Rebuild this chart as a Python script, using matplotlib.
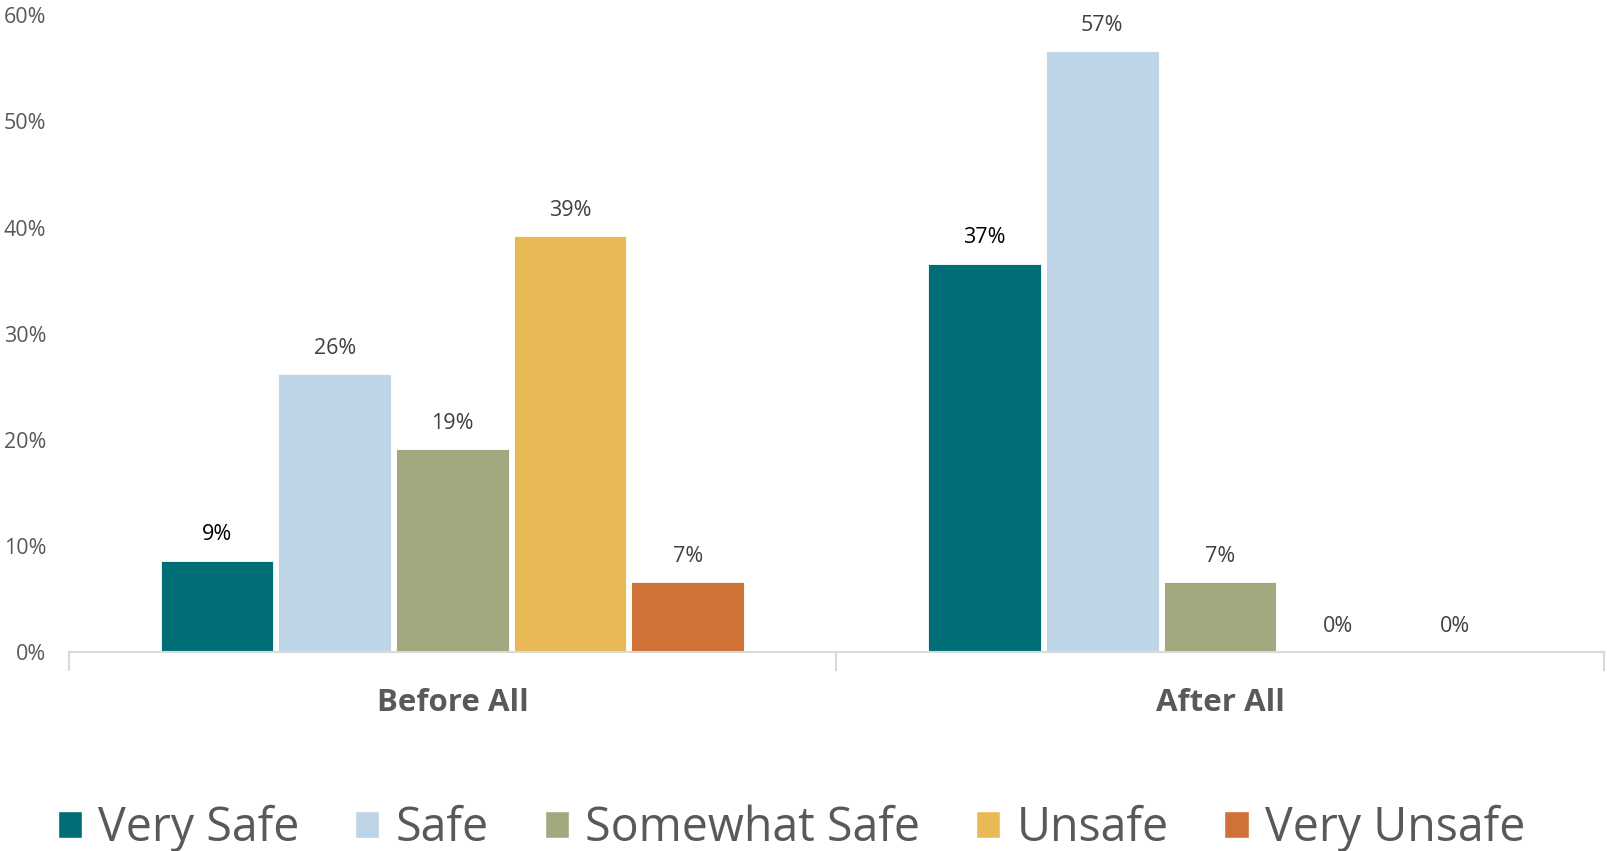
import matplotlib
matplotlib.use("Agg")
import matplotlib.pyplot as plt
import numpy as np
from matplotlib.patches import Patch

# --------------------------------------------------------------------------
# Data
# --------------------------------------------------------------------------
GROUPS = ["Before All", "After All"]
SERIES = ["Very Safe", "Safe", "Somewhat Safe", "Unsafe", "Very Unsafe"]
VERY_SAFE = [8.6, 36.6]
SAFE = [26.2, 56.6]
SOMEWHAT_SAFE = [19.1, 6.6]
UNSAFE = [39.2, 0.0]
VERY_UNSAFE = [6.6, 0.0]
Y_TICKS = [0, 10, 20, 30, 40, 50, 60]

# --------------------------------------------------------------------------
# Style
# --------------------------------------------------------------------------
COLORS = ["#006e76", "#bed4e7", "#a3a87e", "#e9b956", "#d07137"]
LABEL_COLORS = ["#000000", "#404040", "#404040", "#404040", "#404040"]
INK_SECONDARY = "#595959"
AXIS = "#d9d9d9"

plt.rcParams["font.family"] = ["Open Sans", "DejaVu Sans"]

fig = plt.figure(figsize=(16.07, 8.51), dpi=100)
ax = fig.add_axes([0.0427, 0.234, 0.9553, 0.748])

values = [VERY_SAFE, SAFE, SOMEWHAT_SAFE, UNSAFE, VERY_UNSAFE]
x = np.arange(len(GROUPS))
slot = 0.1533
width = 0.1467

for i, (name, vals) in enumerate(zip(SERIES, values)):
    pos = x + (i - 2) * slot
    bars = ax.bar(pos, vals, width=width, color=COLORS[i], edgecolor="white",
                  linewidth=0.6, label=name, zorder=2)
    for b, v in zip(bars, vals):
        ax.annotate(f"{v:.0f}%", xy=(b.get_x() + b.get_width() / 2, v),
                    xytext=(0, 11), textcoords="offset points",
                    ha="center", va="bottom", fontsize=15.5, color=LABEL_COLORS[i])

ax.set_xlim(-0.5, 1.5)
ax.set_ylim(0, 60)
ax.set_yticks(Y_TICKS)
ax.set_yticklabels([f"{t}%" for t in Y_TICKS], fontsize=15.5, color=INK_SECONDARY)
ax.tick_params(axis="y", length=0, pad=16)

ax.set_xticks(x)
ax.set_xticklabels(GROUPS, fontsize=22.5, fontweight="bold", color=INK_SECONDARY)
ax.tick_params(axis="x", which="major", length=0, pad=26)
ax.set_xticks([-0.5, 0.5, 1.5], minor=True)
ax.tick_params(axis="x", which="minor", length=14, width=1.5, color=AXIS)

for s in ["top", "right", "left"]:
    ax.spines[s].set_visible(False)
ax.spines["bottom"].set_color(AXIS)
ax.spines["bottom"].set_linewidth(1.5)

handles = [Patch(facecolor=c, edgecolor="white", label=n) for c, n in zip(COLORS, SERIES)]
fig.legend(handles=handles, loc="center", bbox_to_anchor=(0.4925, 0.027), ncol=5,
           frameon=False, fontsize=33.5, handlelength=0.52, handleheight=0.52,
           handletextpad=0.35, columnspacing=1.2, labelcolor=INK_SECONDARY)

fig.savefig("out.png", dpi=100, facecolor="white")
